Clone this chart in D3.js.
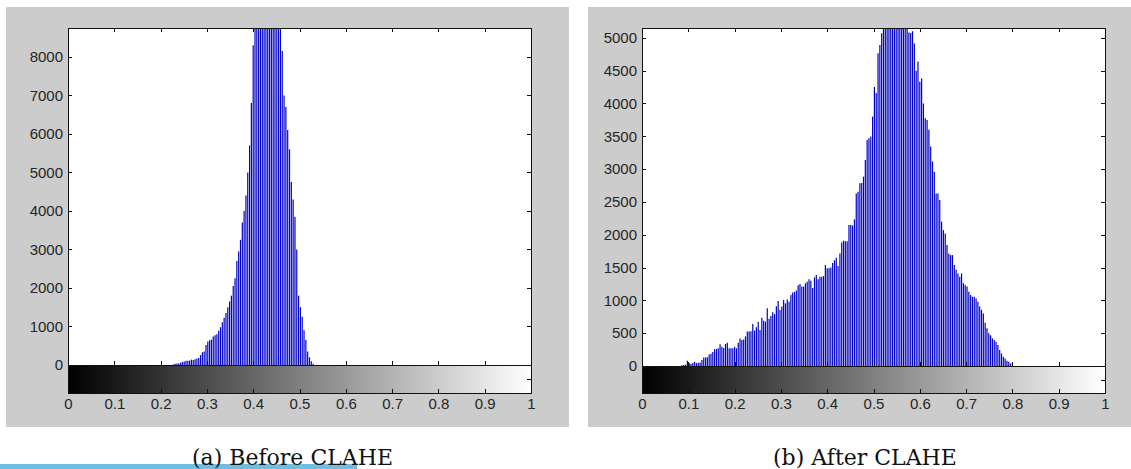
<!DOCTYPE html>
<html>
<head>
  <meta charset="utf-8">
  <title>Histogram before and after CLAHE</title>
  <script src="https://cdn.jsdelivr.net/npm/d3@7"></script>
  <style>
    body { margin: 0; background: #fff; }
    .tick text { font-family: "Liberation Sans", Arial, sans-serif; font-size: 15px; fill: #262626; }
    .caption { font-family: "DejaVu Serif", serif; font-size: 22px; fill: #111; }
  </style>
</head>
<body>
  <svg id="chart" width="1131" height="469"></svg>
  <script>
    // grey levels 0..255 mapped onto [0, 1]
    const binCount = 256;
    const xTicks = [0, 0.1, 0.2, 0.3, 0.4, 0.5, 0.6, 0.7, 0.8, 0.9, 1];
    const colorbarTicks = [0.5];

    // (a) before CLAHE: counts start at bin 58, everything else is zero
    const beforeStart = 58;
    const beforeCounts = [
      10, 30, 40, 40, 60, 80, 90, 110, 110, 120,
      140, 130, 150, 170, 180, 260, 330, 350, 520, 610,
      640, 660, 740, 770, 800, 890, 980, 1110, 1230, 1350,
      1500, 1650, 1800, 2050, 2250, 2700, 2950, 3250, 3700, 4000,
      4400, 5000, 5700, 6800, 8300, 9150, 9600, 10200, 10900, 11500,
      12100, 12600, 12900, 13000, 12800, 12400, 11900, 11200, 10500, 9600,
      8150, 7000, 6700, 6100, 5600, 4750, 4300, 3850, 3000, 1800,
      1500, 1250, 900, 650, 350, 200, 100, 30
    ];
    const beforeYTicks = [0, 1000, 2000, 3000, 4000, 5000, 6000, 7000, 8000];
    const beforeYMax = 8750;

    // (b) after CLAHE: counts start at bin 22
    const afterStart = 22;
    const afterCounts = [
      10, 15, 20, 80, 40, 35, 45, 65, 45, 50,
      55, 90, 130, 130, 135, 175, 185, 215, 255, 260,
      270, 330, 295, 275, 335, 355, 270, 270, 270, 295,
      270, 355, 420, 395, 405, 450, 525, 525, 530, 640,
      540, 590, 675, 550, 735, 690, 675, 880, 720, 760,
      820, 790, 910, 990, 855, 905, 1005, 955, 1015, 980,
      1080, 1120, 1130, 1150, 1230, 1250, 1210, 1210, 1260, 1285,
      1320, 1300, 1190, 1350, 1385, 1320, 1360, 1360, 1370, 1540,
      1490, 1490, 1500, 1570, 1610, 1650, 1525, 1715, 1880, 1910,
      1900, 1900, 2150, 2150, 2140, 2235, 2630, 2655, 2785, 2790,
      2885, 3140, 3445, 3470, 3495, 3800, 4250, 4160, 4765, 4890,
      5070, 5300, 5500, 5800, 6000, 6200, 6300, 6350, 6300, 6200,
      6000, 5800, 5600, 5400, 5250, 5080, 5075, 5100, 4915, 4500,
      4640, 4330, 4380, 4000, 3775, 3750, 3600, 3345, 3115, 2960,
      2630, 2630, 2530, 2200, 2070, 2020, 1845, 1715, 1690, 1690,
      1540, 1465, 1410, 1360, 1410, 1260, 1235, 1210, 1130, 1080,
      1055, 1055, 1030, 980, 905, 855, 800, 660, 575, 500,
      470, 420, 395, 370, 320, 245, 190, 140, 115, 80,
      65, 40, 15
    ];
    const afterYTicks = [0, 500, 1000, 1500, 2000, 2500, 3000, 3500, 4000, 4500, 5000];
    const afterYMax = 5150;

    const captions = ["(a) Before CLAHE", "(b) After CLAHE"];

    const svg = d3.select("#chart");
    const defs = svg.append("defs");

    const panels = [
      { bg: [6, 7, 563, 420], left: 68, right: 531, top: 28, zero: 365, cbBottom: 393, captionX: 192,
        start: beforeStart, counts: beforeCounts, yTicks: beforeYTicks, yMax: beforeYMax, caption: captions[0] },
      { bg: [588, 7, 543, 420], left: 642, right: 1105, top: 28, zero: 366, cbBottom: 393, captionX: 773,
        start: afterStart, counts: afterCounts, yTicks: afterYTicks, yMax: afterYMax, caption: captions[1] }
    ];

    // light blue rule under the first caption
    svg.append("rect")
      .attr("x", 0).attr("y", 464)
      .attr("width", 357).attr("height", 5)
      .attr("fill", "#6cbfe2");

    panels.forEach((p, k) => {
      const g = svg.append("g");

      g.append("rect") // figure background
        .attr("x", p.bg[0]).attr("y", p.bg[1])
        .attr("width", p.bg[2]).attr("height", p.bg[3])
        .attr("fill", "#cccccc");

      const x = d3.scaleLinear().domain([0, 1]).range([p.left, p.right]);
      const y = d3.scaleLinear().domain([0, p.yMax]).range([p.zero, p.top]);
      const cbY = d3.scaleLinear().domain([0, 1]).range([p.cbBottom, p.zero]);

      g.append("rect")
        .attr("x", p.left).attr("y", p.top)
        .attr("width", p.right - p.left).attr("height", p.zero - p.top)
        .attr("fill", "#fff");

      defs.append("clipPath").attr("id", "clip" + k)
        .append("rect")
        .attr("x", p.left).attr("y", p.top)
        .attr("width", p.right - p.left).attr("height", p.zero - p.top);

      const bins = p.counts.map((c, j) => ({ level: (p.start + j) / (binCount - 1), count: c }));

      g.append("g")
        .attr("clip-path", `url(#clip${k})`)
        .selectAll("line")
        .data(bins)
        .join("line")
        .attr("x1", d => x(d.level))
        .attr("x2", d => x(d.level))
        .attr("y1", y(0))
        .attr("y2", d => y(d.count))
        .attr("stroke", "#0000c8")
        .attr("stroke-width", 1.2);

      // grey ramp colorbar under the histogram
      const grad = defs.append("linearGradient").attr("id", "ramp" + k)
        .attr("x1", "0%").attr("x2", "100%").attr("y1", "0%").attr("y2", "0%");
      grad.append("stop").attr("offset", "0%").attr("stop-color", "#000");
      grad.append("stop").attr("offset", "100%").attr("stop-color", "#fff");

      g.append("rect")
        .attr("x", p.left).attr("y", p.zero)
        .attr("width", p.right - p.left).attr("height", p.cbBottom - p.zero)
        .attr("fill", `url(#ramp${k})`);

      const axes = g.append("g").attr("shape-rendering", "crispEdges");

      // MATLAB style: ticks point inward on every side
      axes.append("g")
        .attr("transform", `translate(${p.left},0)`)
        .call(d3.axisLeft(y).tickValues(p.yTicks).tickSizeInner(-4).tickSizeOuter(0).tickPadding(5)
          .tickFormat(d => String(d)));
      axes.append("g")
        .attr("transform", `translate(${p.right},0)`)
        .call(d3.axisRight(y).tickValues(p.yTicks).tickSizeInner(-4).tickSizeOuter(0).tickFormat(""));
      axes.append("g")
        .attr("transform", `translate(0,${p.top})`)
        .call(d3.axisTop(x).tickValues(xTicks).tickSizeInner(-4).tickSizeOuter(0).tickFormat(""));
      axes.append("g")
        .attr("transform", `translate(0,${p.zero})`)
        .call(d3.axisBottom(x).tickValues(xTicks).tickSizeInner(-4).tickSizeOuter(0).tickFormat(""));
      axes.append("g")
        .attr("transform", `translate(0,${p.cbBottom})`)
        .call(d3.axisBottom(x).tickValues(xTicks).tickSizeInner(-4).tickSizeOuter(0).tickPadding(5)
          .tickFormat(d => String(d)));
      axes.append("g")
        .attr("transform", `translate(${p.right},0)`)
        .call(d3.axisRight(cbY).tickValues(colorbarTicks).tickSizeInner(-4).tickSizeOuter(0).tickFormat(""));

      axes.selectAll(".domain").remove();
      axes.selectAll(".tick line").attr("stroke", "#111");

      axes.append("rect") // box round histogram + colorbar
        .attr("x", p.left).attr("y", p.top)
        .attr("width", p.right - p.left).attr("height", p.cbBottom - p.top)
        .attr("fill", "none").attr("stroke", "#111");
      axes.append("line")
        .attr("x1", p.left).attr("x2", p.right)
        .attr("y1", p.zero).attr("y2", p.zero)
        .attr("stroke", "#111");

      svg.append("text")
        .attr("class", "caption")
        .attr("x", p.captionX)
        .attr("y", 465)
        .text(p.caption);
    });
  </script>
</body>
</html>
